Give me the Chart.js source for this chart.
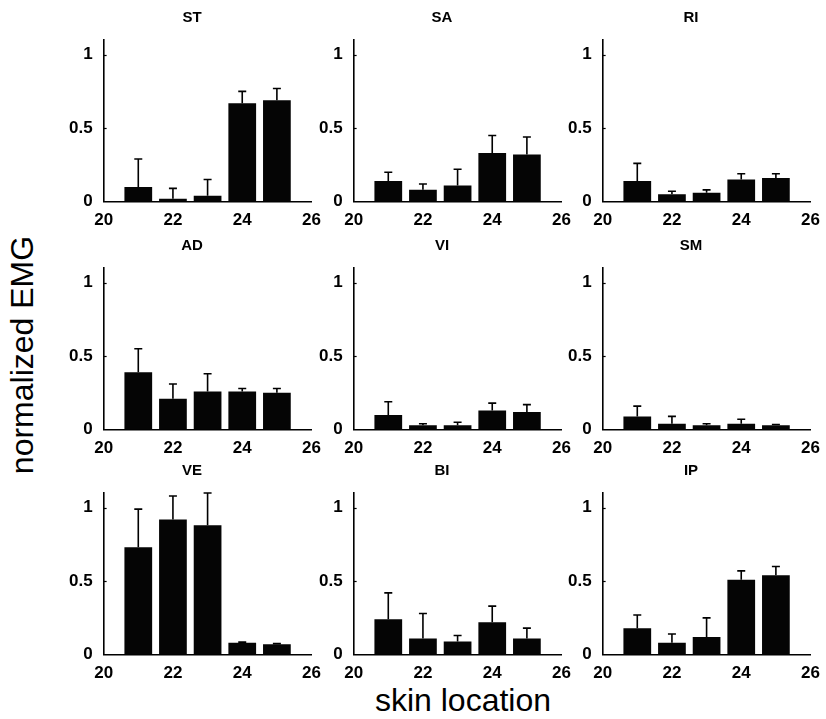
<!DOCTYPE html>
<html>
<head>
<meta charset="utf-8">
<title>normalized EMG vs skin location</title>
<script src="https://cdn.jsdelivr.net/npm/chart.js@4.4.1/dist/chart.umd.min.js"></script>
<style>
  html, body { margin: 0; padding: 0; background: #fff; }
  #fig {
    position: relative; width: 826px; height: 719px; overflow: hidden; background: #fff;
    font-family: "Liberation Sans", Arial, Helvetica, sans-serif; color: #000;
  }
  .panel { position: absolute; }
  .panel canvas { display: block; }
  #ylab {
    position: absolute; left: 22px; top: 355px; white-space: nowrap;
    font-size: 32px; transform: translate(-50%, -50%) rotate(-90deg);
  }
  #xlab {
    position: absolute; left: 463px; top: 700px; white-space: nowrap;
    font-size: 32px; transform: translate(-50%, -50%);
  }
</style>
</head>
<body>
<div id="fig">
  <div id="ylab">normalized EMG</div>
  <div id="xlab">skin location</div>
</div>
<script>
// Electrode positions along the skin and axis ticks
const locations = [21, 22, 23, 24, 25];
const xTicks = [20, 22, 24, 26];
const yTicks = [0, 0.5, 1];

// Panel order (row by row)
const muscles = ['ST', 'SA', 'RI', 'AD', 'VI', 'SM', 'VE', 'BI', 'IP'];

// Mean normalized EMG and standard deviation for each muscle
const stMean = [0.10, 0.02, 0.04, 0.67, 0.69];
const stSd   = [0.19, 0.07, 0.11, 0.08, 0.08];
const saMean = [0.14, 0.08, 0.11, 0.33, 0.32];
const saSd   = [0.06, 0.04, 0.11, 0.12, 0.12];
const riMean = [0.14, 0.05, 0.06, 0.15, 0.16];
const riSd   = [0.12, 0.02, 0.02, 0.04, 0.03];
const adMean = [0.39, 0.21, 0.26, 0.26, 0.25];
const adSd   = [0.16, 0.10, 0.12, 0.02, 0.03];
const viMean = [0.10, 0.03, 0.03, 0.13, 0.12];
const viSd   = [0.09, 0.01, 0.02, 0.05, 0.05];
const smMean = [0.09, 0.04, 0.03, 0.04, 0.03];
const smSd   = [0.07, 0.05, 0.01, 0.03, 0.005];
const veMean = [0.73, 0.92, 0.88, 0.08, 0.07];
const veSd   = [0.26, 0.16, 0.22, 0.005, 0.005];
const biMean = [0.24, 0.11, 0.09, 0.22, 0.11];
const biSd   = [0.18, 0.17, 0.04, 0.11, 0.07];
const ipMean = [0.18, 0.08, 0.12, 0.51, 0.54];
const ipSd   = [0.09, 0.06, 0.13, 0.06, 0.06];

const means = [stMean, saMean, riMean, adMean, viMean, smMean, veMean, biMean, ipMean];
const sds   = [stSd, saSd, riSd, adSd, viSd, smSd, veSd, biSd, ipSd];

// Layout of the 3x3 grid: plot-area origin per column/row and plot-area size
const colLeft = [104, 354, 603];
const rowTop = [40, 268, 493];
const PLOT_W = 208;
const PLOT_H = 162;

Chart.defaults.font.family = '"Liberation Sans", Arial, Helvetica, sans-serif';
Chart.defaults.color = '#000';

// Upward error whiskers with a cap, from bar top to mean + SD
const errorBars = {
  id: 'errorBars',
  afterDatasetsDraw(chart) {
    const ctx = chart.ctx, xs = chart.scales.x, ys = chart.scales.y;
    const ds = chart.data.datasets[0];
    ctx.save();
    ctx.strokeStyle = '#000';
    ctx.lineWidth = 1.6;
    ctx.lineCap = 'butt';
    ds.data.forEach((pt, i) => {
      const sd = ds.sd[i];
      if (!sd) return;
      const px = xs.getPixelForValue(pt.x);
      const y0 = ys.getPixelForValue(pt.y);
      const y1 = ys.getPixelForValue(pt.y + sd);
      ctx.beginPath();
      ctx.moveTo(px, y0);
      ctx.lineTo(px, y1);
      ctx.moveTo(px - 4, y1);
      ctx.lineTo(px + 4, y1);
      ctx.stroke();
    });
    ctx.restore();
  }
};

// Short tick marks pointing into the plot on the y axis
const innerTicks = {
  id: 'innerTicks',
  afterDraw(chart) {
    const ctx = chart.ctx, ys = chart.scales.y, left = chart.chartArea.left;
    ctx.save();
    ctx.strokeStyle = '#000';
    ctx.lineWidth = 1.2;
    ys.ticks.forEach(t => {
      if (t.value === 0) return;
      const py = Math.round(ys.getPixelForValue(t.value)) + 0.5;
      ctx.beginPath();
      ctx.moveTo(left, py);
      ctx.lineTo(left + 3, py);
      ctx.stroke();
    });
    ctx.restore();
  }
};

function panelConfig(title, mean, sd) {
  return {
    type: 'bar',
    data: {
      datasets: [{
        data: locations.map((x, i) => ({ x: x, y: mean[i] })),
        sd: sd,
        backgroundColor: '#050505',
        borderWidth: 0,
        categoryPercentage: 1,
        barPercentage: 0.8
      }]
    },
    options: {
      responsive: false,
      animation: false,
      devicePixelRatio: 1,
      events: [],
      layout: { padding: { left: 0, right: 4, top: 0, bottom: 0 } },
      plugins: {
        legend: { display: false },
        tooltip: { enabled: false },
        title: {
          display: true,
          text: title,
          color: '#000',
          font: { size: 15, weight: 'bold' },
          padding: { top: 4, bottom: 13 }
        }
      },
      scales: {
        x: {
          type: 'linear',
          offset: false,
          min: 20, max: 26,
          afterBuildTicks: s => { s.ticks = xTicks.map(v => ({ value: v })); },
          ticks: { font: { size: 17, weight: 'bold' }, padding: 1, maxRotation: 0, color: '#000',
                   callback: v => String(v) },
          grid: { display: false },
          border: { display: true, color: '#000', width: 1.6 }
        },
        y: {
          min: 0, max: 1.1,
          afterBuildTicks: s => { s.ticks = yTicks.map(v => ({ value: v })); },
          ticks: { font: { size: 17, weight: 'bold' }, padding: 3, color: '#000',
                   callback: v => String(v) },
          grid: { display: false },
          border: { display: true, color: '#000', width: 1.6 }
        }
      }
    },
    plugins: [errorBars, innerTicks]
  };
}

const fig = document.getElementById('fig');

muscles.forEach((name, idx) => {
  const col = idx % 3, row = Math.floor(idx / 3);
  const wrap = document.createElement('div');
  wrap.className = 'panel';
  fig.appendChild(wrap);

  // First pass: measure how the axes eat into the canvas, then size it so the
  // plot area is exactly PLOT_W x PLOT_H
  let cw = 260, ch = 230;
  let canvas = document.createElement('canvas');
  canvas.width = cw; canvas.height = ch;
  wrap.appendChild(canvas);
  let chart = new Chart(canvas, panelConfig(name, means[idx], sds[idx]));
  let a = chart.chartArea;
  cw += PLOT_W - (a.right - a.left);
  ch += PLOT_H - (a.bottom - a.top);
  chart.destroy();
  wrap.removeChild(canvas);

  canvas = document.createElement('canvas');
  canvas.width = cw; canvas.height = ch;
  canvas.style.width = cw + 'px'; canvas.style.height = ch + 'px';
  wrap.appendChild(canvas);
  chart = new Chart(canvas, panelConfig(name, means[idx], sds[idx]));
  a = chart.chartArea;
  wrap.style.left = (colLeft[col] - a.left) + 'px';
  wrap.style.top = (rowTop[row] - a.top) + 'px';
});
</script>
</body>
</html>
